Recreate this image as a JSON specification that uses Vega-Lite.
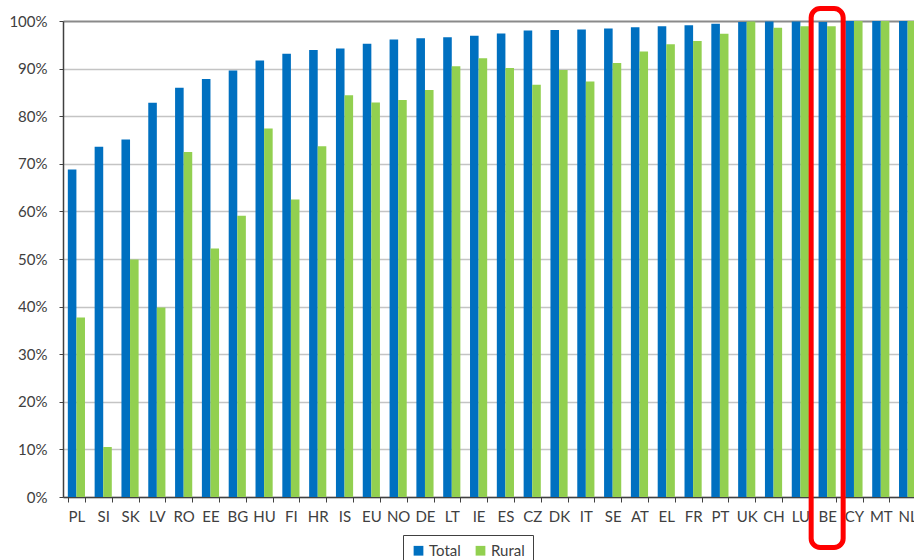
{
  "$schema": "https://vega.github.io/schema/vega-lite/v6.json",
  "width": 851,
  "height": 476,
  "autosize": {"type": "none"},
  "padding": {"left": 63, "top": 21, "right": 0, "bottom": 63},
  "background": "white",
  "config": {
    "view": {"stroke": null},
    "font": "Lato",
    "axis": {"labelFont": "Lato", "labelColor": "#404040", "labelFontSize": 15, "domainColor": "#404040", "tickColor": "#404040", "domainWidth": 1.5}
  },
  "datasets": {
    "access": [
      {"country": "PL", "series": "Total", "value": 68.8}, {"country": "PL", "series": "Rural", "value": 37.7},
      {"country": "SI", "series": "Total", "value": 73.6}, {"country": "SI", "series": "Rural", "value": 10.5},
      {"country": "SK", "series": "Total", "value": 75.1}, {"country": "SK", "series": "Rural", "value": 49.9},
      {"country": "LV", "series": "Total", "value": 82.8}, {"country": "LV", "series": "Rural", "value": 39.8},
      {"country": "RO", "series": "Total", "value": 86.0}, {"country": "RO", "series": "Rural", "value": 72.5},
      {"country": "EE", "series": "Total", "value": 87.8}, {"country": "EE", "series": "Rural", "value": 52.2},
      {"country": "BG", "series": "Total", "value": 89.6}, {"country": "BG", "series": "Rural", "value": 59.1},
      {"country": "HU", "series": "Total", "value": 91.7}, {"country": "HU", "series": "Rural", "value": 77.4},
      {"country": "FI", "series": "Total", "value": 93.1}, {"country": "FI", "series": "Rural", "value": 62.5},
      {"country": "HR", "series": "Total", "value": 93.9}, {"country": "HR", "series": "Rural", "value": 73.7},
      {"country": "IS", "series": "Total", "value": 94.2}, {"country": "IS", "series": "Rural", "value": 84.4},
      {"country": "EU", "series": "Total", "value": 95.2}, {"country": "EU", "series": "Rural", "value": 82.9},
      {"country": "NO", "series": "Total", "value": 96.1}, {"country": "NO", "series": "Rural", "value": 83.4},
      {"country": "DE", "series": "Total", "value": 96.4}, {"country": "DE", "series": "Rural", "value": 85.5},
      {"country": "LT", "series": "Total", "value": 96.6}, {"country": "LT", "series": "Rural", "value": 90.5},
      {"country": "IE", "series": "Total", "value": 96.9}, {"country": "IE", "series": "Rural", "value": 92.2},
      {"country": "ES", "series": "Total", "value": 97.4}, {"country": "ES", "series": "Rural", "value": 90.1},
      {"country": "CZ", "series": "Total", "value": 98.0}, {"country": "CZ", "series": "Rural", "value": 86.6},
      {"country": "DK", "series": "Total", "value": 98.1}, {"country": "DK", "series": "Rural", "value": 89.7},
      {"country": "IT", "series": "Total", "value": 98.2}, {"country": "IT", "series": "Rural", "value": 87.3},
      {"country": "SE", "series": "Total", "value": 98.4}, {"country": "SE", "series": "Rural", "value": 91.2},
      {"country": "AT", "series": "Total", "value": 98.7}, {"country": "AT", "series": "Rural", "value": 93.6},
      {"country": "EL", "series": "Total", "value": 98.9}, {"country": "EL", "series": "Rural", "value": 95.1},
      {"country": "FR", "series": "Total", "value": 99.1}, {"country": "FR", "series": "Rural", "value": 95.8},
      {"country": "PT", "series": "Total", "value": 99.4}, {"country": "PT", "series": "Rural", "value": 97.3},
      {"country": "UK", "series": "Total", "value": 99.8}, {"country": "UK", "series": "Rural", "value": 99.9},
      {"country": "CH", "series": "Total", "value": 99.9}, {"country": "CH", "series": "Rural", "value": 98.6},
      {"country": "LU", "series": "Total", "value": 99.9}, {"country": "LU", "series": "Rural", "value": 98.9},
      {"country": "BE", "series": "Total", "value": 99.8}, {"country": "BE", "series": "Rural", "value": 98.9},
      {"country": "CY", "series": "Total", "value": 100}, {"country": "CY", "series": "Rural", "value": 100},
      {"country": "MT", "series": "Total", "value": 100}, {"country": "MT", "series": "Rural", "value": 100},
      {"country": "NL", "series": "Total", "value": 100}, {"country": "NL", "series": "Rural", "value": 100}
    ],
    "highlight": [{"country": "BE"}]
  },
  "layer": [
    {
      "data": {"name": "access"},
      "mark": {"type": "bar"},
      "encoding": {
        "x": {
          "field": "country",
          "type": "nominal",
          "sort": null,
          "scale": {
            "domain": ["PL","SI","SK","LV","RO","EE","BG","HU","FI","HR","IS","EU","NO","DE","LT","IE","ES","CZ","DK","IT","SE","AT","EL","FR","PT","UK","CH","LU","BE","CY","MT","NL"],
            "range": [0, 858],
            "paddingInner": 0.36,
            "paddingOuter": 0.18
          },
          "axis": {"title": null, "labelAngle": 0, "tickBand": "extent", "tickSize": 5, "labelPadding": 7, "domainWidth": 1.5}
        },
        "xOffset": {"field": "series", "type": "nominal", "sort": ["Total", "Rural"], "scale": {"paddingInner": 0, "paddingOuter": 0}},
        "y": {
          "field": "value",
          "type": "quantitative",
          "scale": {"domain": [0, 100], "nice": false},
          "axis": {
            "title": null,
            "values": [0,10,20,30,40,50,60,70,80,90,100],
            "labelExpr": "datum.value + '%'",
            "tickSize": 4,
            "labelPadding": 12,
            "grid": true,
            "gridColor": {"condition": {"test": "datum.value === 100", "value": "#8a8a8a"}, "value": "#c4c4c4"},
            "gridWidth": {"condition": {"test": "datum.value === 100", "value": 2}, "value": 1.3}
          }
        },
        "color": {
          "field": "series",
          "type": "nominal",
          "sort": ["Total", "Rural"],
          "scale": {"domain": ["Total", "Rural"], "range": ["#0070C0", "#92D050"]},
          "legend": {
            "title": null,
            "orient": "none",
            "legendX": 340,
            "legendY": 514,
            "direction": "horizontal",
            "strokeColor": "#404040",
            "padding": 8,
            "symbolType": "square",
            "symbolSize": 95,
            "symbolStrokeWidth": 0,
            "labelFont": "Lato",
            "labelFontSize": 15,
            "labelColor": "#404040",
            "columnPadding": 12,
            "labelOffset": 3
          }
        }
      }
    },
    {
      "data": {"name": "highlight"},
      "mark": {"type": "bar", "width": 32, "fillOpacity": 0, "stroke": "#ff0000", "strokeWidth": 5, "cornerRadius": 9},
      "encoding": {
        "x": {"field": "country", "type": "nominal", "sort": null},
        "y": {"datum": 102.6, "type": "quantitative"},
        "y2": {"datum": -10.6}
      }
    }
  ]
}
